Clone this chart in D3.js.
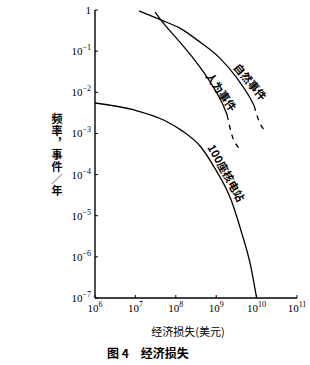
<!DOCTYPE html>
<html><head><meta charset="utf-8">
<script src="https://cdn.jsdelivr.net/npm/d3@7"></script>
<style>body{margin:0;background:#fff}svg{display:block}</style>
</head><body>
<svg id="c" width="310" height="365"></svg>
<script>
// data (log10 values)
const xTickExp = [6, 7, 8, 9, 10, 11];
const yTickExp = [0, -1, -2, -3, -4, -5, -6, -7];
const naturalX = [7.09, 7.63, 8.10, 8.60, 9.09, 9.51, 9.84, 9.94];
const naturalY = [-0.02, -0.24, -0.44, -0.78, -1.17, -1.65, -2.14, -2.33];
const naturalDashX = [9.94, 10.08, 10.23];
const naturalDashY = [-2.33, -2.75, -2.94];
const humanX = [7.49, 7.63, 8.10, 8.43, 8.85, 9.17, 9.27];
const humanY = [-0.05, -0.24, -0.78, -1.17, -1.75, -2.31, -2.55];
const humanDashX = [9.27, 9.39, 9.56];
const humanDashY = [-2.55, -3.04, -3.35];
const nuclearX = [6.0, 6.97, 7.71, 8.13, 8.62, 8.95, 9.37, 9.61, 9.86, 10.0];
const nuclearY = [-2.26, -2.43, -2.68, -2.92, -3.33, -3.82, -4.62, -5.35, -6.25, -7.0];
const labels = ["自然事件", "人为事件", "100座核电站"];
const yTitle = "频率，事件／年";
const xTitle = "经济损失(美元)";
const caption = "图 4　经济损失";

const svg = d3.select("#c");
const x = d3.scaleLog().domain([1e6, 1e11]).range([95, 297]);
const y = d3.scaleLog().domain([1e-7, 1]).range([298, 10]);
const serif = "'Liberation Serif','DejaVu Serif',serif";
const cjk = "'Noto Sans CJK SC',sans-serif";

// axes
svg.append("line").attr("x1", x(1e6)).attr("x2", x(1e6)).attr("y1", y(1)).attr("y2", y(1e-7)).attr("stroke", "#000").attr("stroke-width", 1.4);
svg.append("line").attr("x1", x(1e6)).attr("x2", x(1e11)).attr("y1", y(1e-7)).attr("y2", y(1e-7)).attr("stroke", "#000").attr("stroke-width", 1.4);

// y ticks
yTickExp.forEach(e => {
  const yy = y(Math.pow(10, e));
  svg.append("line").attr("x1", x(1e6)).attr("x2", x(1e6) + 3).attr("y1", yy).attr("y2", yy).attr("stroke", "#000");
  const t = svg.append("text").attr("x", 91).attr("y", yy + 4).attr("text-anchor", "end")
    .attr("font-family", serif).attr("font-size", 11).attr("fill", "#000");
  if (e === 0) { t.text("1"); }
  else {
    t.append("tspan").text("10");
    t.append("tspan").attr("dy", -5).attr("font-size", 8).text("−" + (-e));
  }
});
// x ticks
xTickExp.forEach(e => {
  const xx = x(Math.pow(10, e));
  svg.append("line").attr("x1", xx).attr("x2", xx).attr("y1", y(1e-7)).attr("y2", y(1e-7) - 3).attr("stroke", "#000");
  const t = svg.append("text").attr("x", xx).attr("y", 312).attr("text-anchor", "middle")
    .attr("font-family", serif).attr("font-size", 11).attr("fill", "#000");
  t.append("tspan").text("10");
  t.append("tspan").attr("dy", -5).attr("font-size", 8).text(String(e));
});

// curves
const line = d3.line().x(d => x(Math.pow(10, d[0]))).y(d => y(Math.pow(10, d[1]))).curve(d3.curveMonotoneX);
const zip = (a, b) => a.map((v, i) => [v, b[i]]);
function draw(xs, ys, dash) {
  svg.append("path").attr("d", line(zip(xs, ys))).attr("fill", "none").attr("stroke", "#000")
    .attr("stroke-width", 1.3).attr("stroke-dasharray", dash ? "5,5" : null);
}
draw(naturalX, naturalY, false);
draw(naturalDashX, naturalDashY, true);
draw(humanX, humanY, false);
draw(humanDashX, humanDashY, true);
draw(nuclearX, nuclearY, false);

// curve labels
const labelPos = [[250, 82, 50], [221, 92, 55], [226, 173, 61]];
labels.forEach((s, i) => {
  const [lx, ly, a] = labelPos[i];
  svg.append("text").attr("transform", `translate(${lx},${ly}) rotate(${a})`)
    .attr("text-anchor", "middle").attr("dy", 4).attr("font-family", cjk).attr("font-size", 11)
    .attr("font-weight", "bold").attr("fill", "#000").text(s);
});

// y title vertical (single text, vertical writing)
svg.append("text").attr("x", 57).attr("y", 155).attr("text-anchor", "middle")
  .style("writing-mode", "vertical-rl").style("text-orientation", "upright")
  .attr("font-family", cjk).attr("font-size", 11).attr("font-weight", "bold").attr("fill", "#000")
  .attr("letter-spacing", 1)
  .text(yTitle);

svg.append("text").attr("x", 188).attr("y", 336).attr("text-anchor", "middle")
  .attr("font-family", cjk).attr("font-size", 11).attr("fill", "#000").text(xTitle);
svg.append("text").attr("x", 107).attr("y", 358)
  .attr("font-family", cjk).attr("font-size", 12).attr("font-weight", "bold").attr("fill", "#000").text(caption);
</script>
</body></html>
